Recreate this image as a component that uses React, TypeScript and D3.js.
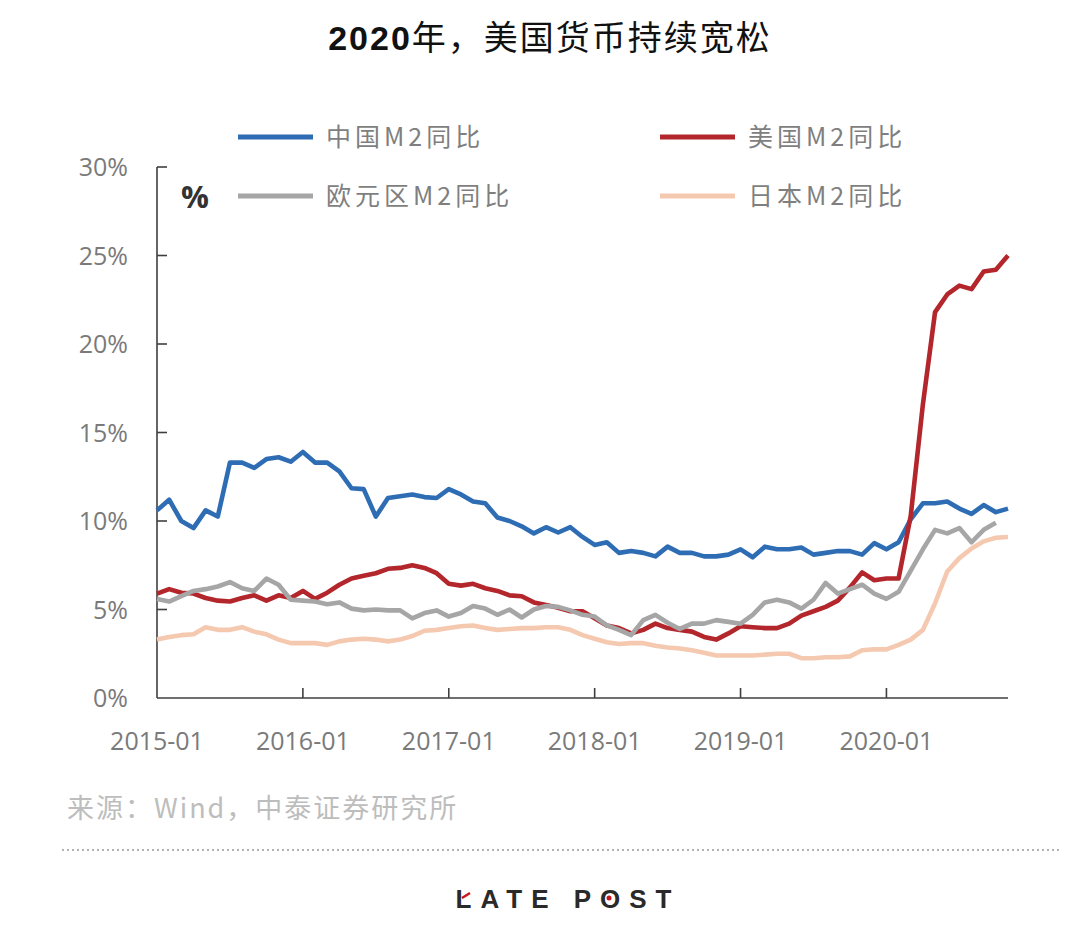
import React from "react";
import * as d3 from "d3";

const tickLabels = ["2015-01", "2016-01", "2017-01", "2018-01", "2019-01", "2020-01"];
const yTicks = [0, 5, 10, 15, 20, 25, 30];

const chinaM2 = [10.6, 11.2, 10.0, 9.6, 10.6, 10.25, 13.3, 13.3, 13.0, 13.5, 13.6, 13.35, 13.9, 13.3, 13.3, 12.8, 11.85, 11.8, 10.25, 11.3, 11.4, 11.5, 11.35, 11.3, 11.8, 11.5, 11.1, 11.0, 10.2, 10.0, 9.7, 9.3, 9.65, 9.35, 9.65, 9.1, 8.65, 8.8, 8.2, 8.3, 8.2, 8.0, 8.55, 8.2, 8.2, 8.0, 8.0, 8.1, 8.4, 7.95, 8.55, 8.4, 8.4, 8.5, 8.1, 8.2, 8.3, 8.3, 8.1, 8.75, 8.4, 8.8, 10.1, 11.0, 11.0, 11.1, 10.7, 10.4, 10.9, 10.5, 10.7];
const usM2 = [5.9, 6.15, 5.95, 5.9, 5.65, 5.5, 5.45, 5.65, 5.8, 5.5, 5.8, 5.65, 6.05, 5.6, 5.95, 6.4, 6.75, 6.9, 7.05, 7.3, 7.35, 7.5, 7.35, 7.05, 6.45, 6.35, 6.45, 6.2, 6.05, 5.8, 5.75, 5.4, 5.25, 5.1, 4.9, 4.9, 4.5, 4.1, 3.95, 3.65, 3.85, 4.2, 3.95, 3.85, 3.75, 3.45, 3.3, 3.65, 4.05, 4.0, 3.95, 3.95, 4.2, 4.65, 4.9, 5.15, 5.5, 6.25, 7.1, 6.65, 6.75, 6.75, 10.3, 16.6, 21.8, 22.8, 23.3, 23.1, 24.1, 24.2, 25.0];
const euroM2 = [5.6, 5.45, 5.75, 6.05, 6.15, 6.3, 6.55, 6.2, 6.05, 6.75, 6.4, 5.55, 5.5, 5.45, 5.3, 5.4, 5.05, 4.95, 5.0, 4.95, 4.95, 4.5, 4.8, 4.95, 4.6, 4.8, 5.2, 5.05, 4.7, 5.0, 4.55, 5.0, 5.2, 5.15, 4.95, 4.7, 4.6, 4.1, 3.85, 3.55, 4.4, 4.7, 4.25, 3.9, 4.2, 4.2, 4.4, 4.3, 4.2, 4.7, 5.4, 5.55, 5.4, 5.05, 5.55, 6.5, 5.9, 6.15, 6.4, 5.9, 5.6, 6.0, 7.2, 8.4, 9.5, 9.3, 9.6, 8.8, 9.5, 9.9];
const japanM2 = [3.3, 3.45, 3.55, 3.6, 4.0, 3.85, 3.85, 4.0, 3.75, 3.6, 3.3, 3.1, 3.1, 3.1, 3.0, 3.2, 3.3, 3.35, 3.3, 3.2, 3.3, 3.5, 3.8, 3.85, 3.95, 4.05, 4.1, 3.95, 3.85, 3.9, 3.95, 3.95, 4.0, 4.0, 3.85, 3.55, 3.35, 3.15, 3.05, 3.1, 3.1, 2.95, 2.85, 2.8, 2.7, 2.55, 2.4, 2.4, 2.4, 2.4, 2.45, 2.5, 2.5, 2.25, 2.25, 2.3, 2.3, 2.35, 2.7, 2.75, 2.75, 3.0, 3.3, 3.85, 5.35, 7.15, 7.9, 8.45, 8.85, 9.05, 9.1];

const seriesNames = ["中国M2同比", "美国M2同比", "欧元区M2同比", "日本M2同比"];
const seriesColors = ["#2E6DB4", "#B3262B", "#A6A6A6", "#F5C9B0"];
const seriesData = [chinaM2, usM2, euroM2, japanM2];

const W = 1080;
const H = 929;
const x = d3.scaleLinear().domain([0, 70]).range([157, 1008]);
const y = d3.scaleLinear().domain([0, 30]).range([698, 167]);
const line = d3
  .line<number>()
  .x((_, i) => x(i))
  .y((d) => y(d));

const axisColor = "#3f3f3f";
const labelColor = "#7a7a7a";
const tickFont = "'Open Sans', 'Liberation Sans', sans-serif";
const cjkFont = "'Noto Sans CJK SC', 'Noto Sans', sans-serif";

export default function App() {
  const drawOrder = [0, 1, 2, 3];
  const legendPos = [
    { lx: 238, ly: 137 },
    { lx: 660, ly: 137 },
    { lx: 238, ly: 196 },
    { lx: 660, ly: 196 },
  ];
  return (
    <svg
      width={W}
      height={H}
      viewBox={`0 0 ${W} ${H}`}
      style={{ position: "absolute", left: 0, top: 0, background: "#fff" }}
    >
      <rect x={0} y={0} width={W} height={H} fill="#fff" />
      {/* Title */}
      <text
        x={550}
        y={50}
        textAnchor="middle"
        fontFamily={cjkFont}
        fontSize={34}
        fill="#111"
        letterSpacing={2}
      >
        <tspan fontWeight="bold" fontFamily="'Liberation Sans', Arial, sans-serif">2020</tspan>
        <tspan>年，美国货币持续宽松</tspan>
      </text>

      {/* Y axis */}
      <line x1={157} x2={157} y1={y(30)} y2={y(0)} stroke={axisColor} strokeWidth={1.6} />
      {yTicks.map((t) => (
        <g key={t}>
          {t > 0 && (
            <line x1={157} x2={167} y1={y(t)} y2={y(t)} stroke={axisColor} strokeWidth={1.6} />
          )}
          <text
            x={128}
            y={y(t)}
            dy="0.36em"
            textAnchor="end"
            fontFamily={tickFont}
            fontSize={25}
            fill={labelColor}
          >
            {t}%
          </text>
        </g>
      ))}

      {/* X axis */}
      <line x1={157} x2={1008} y1={y(0)} y2={y(0)} stroke={axisColor} strokeWidth={1.6} />
      {tickLabels.map((lab, k) => {
        const xi = x(k * 12);
        return (
          <g key={lab}>
            {k > 0 && (
              <line x1={xi} x2={xi} y1={y(0)} y2={y(0) - 10} stroke={axisColor} strokeWidth={1.6} />
            )}
            <text
              x={xi}
              y={750}
              textAnchor="middle"
              fontFamily={tickFont}
              fontSize={25}
              fill={labelColor}
            >
              {lab}
            </text>
          </g>
        );
      })}

      {/* % unit */}
      <text x={181} y={208} fontFamily={tickFont} fontSize={31} fontWeight="bold" fill="#333">
        %
      </text>

      {/* Lines */}
      {drawOrder.map((s) => (
        <path
          key={seriesNames[s]}
          d={line(seriesData[s]) || ""}
          fill="none"
          stroke={seriesColors[s]}
          strokeWidth={4.6}
          strokeLinejoin="round"
          strokeLinecap="butt"
        />
      ))}

      {/* Legend */}
      {seriesNames.map((name, s) => (
        <g key={name}>
          <line
            x1={legendPos[s].lx}
            x2={legendPos[s].lx + 75}
            y1={legendPos[s].ly}
            y2={legendPos[s].ly}
            stroke={seriesColors[s]}
            strokeWidth={5}
          />
          <text
            x={legendPos[s].lx + 88}
            y={legendPos[s].ly}
            dy="0.36em"
            fontFamily={cjkFont}
            fontSize={25}
            fill="#7f7f7f"
            letterSpacing={4}
          >
            {name}
          </text>
        </g>
      ))}

      {/* Source */}
      <text x={67} y={818} fontFamily={cjkFont} fontSize={27} fill="#bdbdbd" letterSpacing={2}>
        来源：Wind，中泰证券研究所
      </text>

      {/* Dotted separator */}
      <line
        x1={62}
        x2={1062}
        y1={850}
        y2={850}
        stroke="#9a9a9a"
        strokeWidth={1.5}
        strokeDasharray="2 3"
      />

      {/* LATE POST */}
      <text
        x={568}
        y={908}
        textAnchor="middle"
        fontFamily="'Liberation Sans', Arial, sans-serif"
        fontSize={26}
        fontWeight="bold"
        fill="#2a2a2a"
        letterSpacing={9}
      >
        LATE POST
      </text>
      <line x1={462} x2={470} y1={898} y2={893} stroke="#c8151b" strokeWidth={2.5} />
      <circle cx={609} cy={898} r={2.5} fill="#c8151b" />
    </svg>
  );
}
